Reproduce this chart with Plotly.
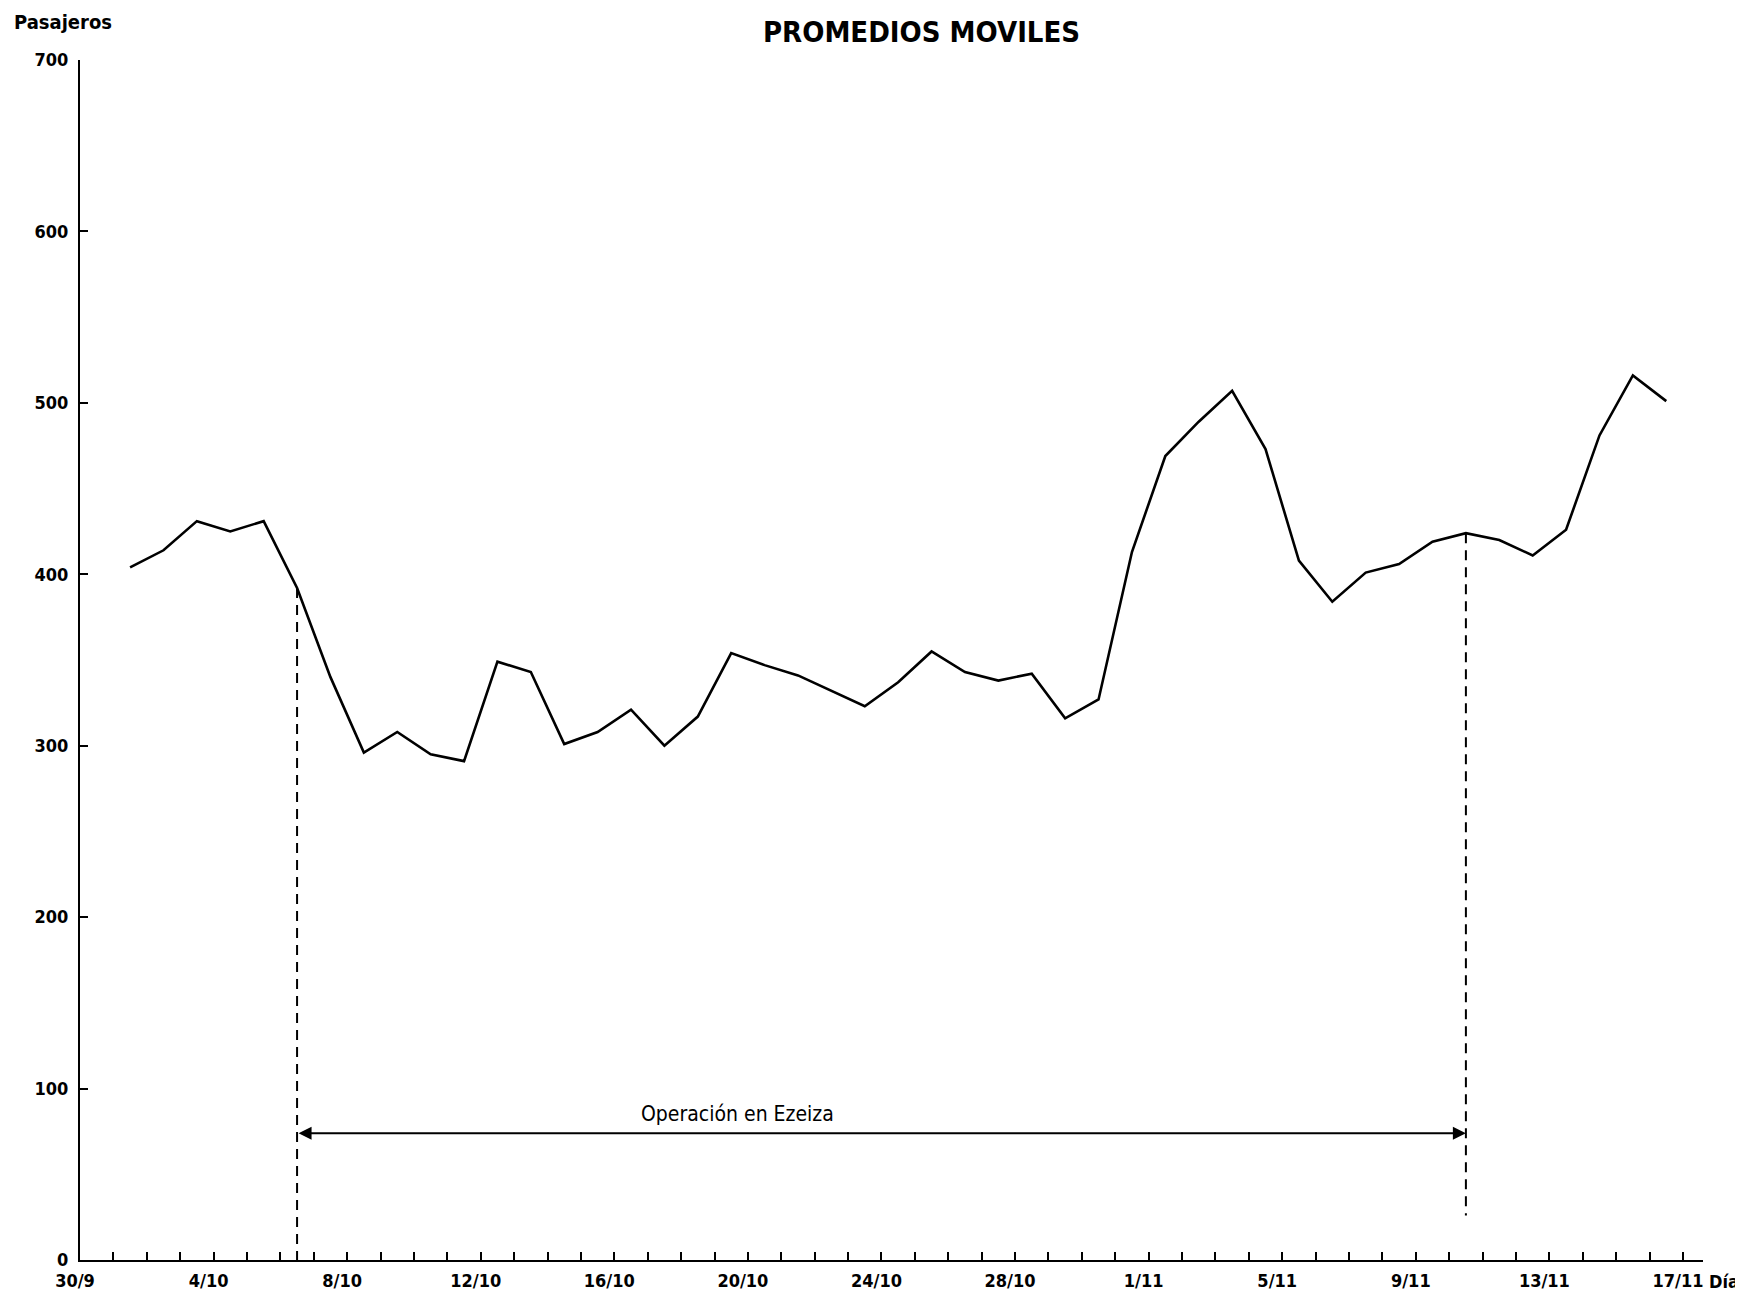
import plotly.graph_objects as go

# Moving averages (passengers), one per day
valores = [404, 414, 431, 425, 431, 392, 340, 296, 308, 295, 291, 349, 343, 301,
           308, 321, 300, 317, 354, 347, 341, 332, 323, 337, 355, 343, 338, 342,
           316, 327, 413, 469, 489, 507, 473, 408, 384, 401, 406, 419, 424, 420,
           411, 426, 481, 516, 501]
# each average is plotted midway between two day ticks (day 0 = 30/9)
posiciones = [i + 1.5 for i in range(len(valores))]

dias_etiqueta = [0, 4, 8, 12, 16, 20, 24, 28, 32, 36, 40, 44, 48]
etiquetas_dia = ["30/9", "4/10", "8/10", "12/10", "16/10", "20/10", "24/10",
                 "28/10", "1/11", "5/11", "9/11", "13/11", "17/11"]
y_ticks = [0, 100, 200, 300, 400, 500, 600, 700]

inicio_idx = 5      # start of "Operación en Ezeiza"
fin_idx = 40        # end of "Operación en Ezeiza"
fin_base = 26       # bottom of the right dashed marker
flecha_y = 74       # level of the double arrow
texto_y = 85        # level of the label
texto_x = 19.7      # centre of the label (day units)

FONT = "DejaVu Sans Condensed, Liberation Sans Narrow, DejaVu Sans, sans-serif"

fig = go.Figure()
fig.add_trace(go.Scatter(x=posiciones, y=valores, mode="lines",
                         line=dict(color="black", width=2.6), hoverinfo="skip"))
fig.add_trace(go.Scatter(x=[posiciones[inicio_idx]] * 2, y=[valores[inicio_idx], 0],
                         mode="lines", line=dict(color="black", width=2, dash="10px,7px")))
fig.add_trace(go.Scatter(x=[posiciones[fin_idx]] * 2, y=[valores[fin_idx], fin_base],
                         mode="lines", line=dict(color="black", width=2, dash="10px,7px")))

fig.add_annotation(x=posiciones[fin_idx], y=flecha_y, ax=posiciones[inicio_idx], ay=flecha_y,
                   xref="x", yref="y", axref="x", ayref="y", text="", showarrow=True,
                   arrowside="end+start", arrowhead=2, startarrowhead=2,
                   arrowsize=1.3, startarrowsize=1.3, arrowwidth=2, arrowcolor="black",
                   standoff=0, startstandoff=0)
fig.add_annotation(x=texto_x, y=texto_y, xref="x", yref="y", text="Operación en Ezeiza",
                   showarrow=False, xanchor="center", yanchor="middle",
                   font=dict(family=FONT, size=21, color="black"))

fig.add_annotation(x=0.5185, y=1.0236, xref="paper", yref="paper", text="<b>PROMEDIOS MOVILES</b>",
                   showarrow=False, xanchor="center", yanchor="middle",
                   font=dict(family=FONT, size=29, color="black"))
fig.add_annotation(x=-0.0105, y=1.032, xref="paper", yref="paper", text="<b>Pasajeros</b>",
                   showarrow=False, xanchor="center", yanchor="middle",
                   font=dict(family=FONT, size=20, color="black"))
fig.add_annotation(x=1.0235, y=-0.0074, xref="paper", yref="paper", text="<b>Día</b>",
                   showarrow=False, xanchor="right", yanchor="top",
                   font=dict(family=FONT, size=18, color="black"))

fig.update_layout(
    width=1743, height=1295,
    margin=dict(l=72, r=48, t=52, b=33),
    plot_bgcolor="white", paper_bgcolor="white",
    showlegend=False,
    font=dict(family=FONT, size=18, color="black"),
    xaxis=dict(range=[0, 48.6], tickmode="array", tickvals=dias_etiqueta,
               ticktext=["<b>" + t + "</b>" for t in etiquetas_dia],
               ticks="inside", ticklen=8, tickwidth=2, tickcolor="black",
               showline=True, linecolor="black", linewidth=2, showgrid=False, zeroline=False,
               ticklabelstandoff=3, ticklabelshift=-5,
               tickfont=dict(family=FONT, size=18, color="black"),
               minor=dict(dtick=1, tick0=0, ticks="inside", ticklen=8, tickwidth=1.5,
                          tickcolor="black", showgrid=False)),
    yaxis=dict(range=[0, 700], tickmode="array", tickvals=y_ticks,
               ticktext=["<b>" + str(v) + "</b>" for v in y_ticks],
               ticks="inside", ticklen=8, tickwidth=2, tickcolor="black",
               showline=True, linecolor="black", linewidth=2, showgrid=False, zeroline=False,
               ticklabelstandoff=6,
               tickfont=dict(family=FONT, size=18, color="black")),
)

fig.write_html("out.html")
